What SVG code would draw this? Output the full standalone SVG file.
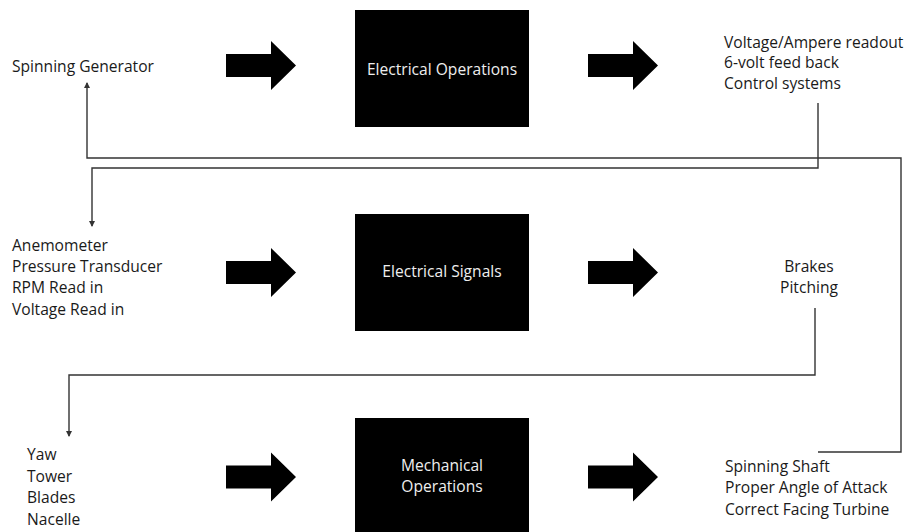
<svg xmlns="http://www.w3.org/2000/svg" width="914" height="532" viewBox="0 0 914 532">
  <defs>
    <style>
      .lbl { font-family: "Open Sans", "Liberation Sans", sans-serif; font-size: 15.6px; fill: #1a1a1a; }
      .box { fill: #000; }
      .boxtxt { font-family: "Open Sans", "Liberation Sans", sans-serif; font-size: 15.6px; fill: #eee; text-anchor: middle; }
      .flow { fill: #000; }
      .wire { fill: none; stroke: #333; stroke-width: 1.4; }
    </style>
    <marker id="tip" markerWidth="6" markerHeight="6" refX="5" refY="3" orient="auto" markerUnits="userSpaceOnUse">
      <path d="M0,0 L6,3 L0,6 Z" fill="#333"/>
    </marker>
    <!-- block arrow, origin at left edge / vertical centre -->
    <polygon id="blk" points="0,-11.5 45,-11.5 45,-24.5 70,0 45,24.5 45,11.5 0,11.5"/>
  </defs>

  <rect width="914" height="532" fill="#fff"/>

  <!-- feedback connectors -->
  <g id="connectors">
    <polyline class="wire" points="818,103 818,168 92,168 92,226" marker-end="url(#tip)"/>
    <polyline class="wire" points="818,452 901,452 901,158 87,158 87,83" marker-end="url(#tip)"/>
    <polyline class="wire" points="815,308 815,375 69,375 69,436" marker-end="url(#tip)"/>
  </g>

  <!-- flow arrows -->
  <g id="flow-arrows" class="flow">
    <use href="#blk" x="226" y="65.5"/>
    <use href="#blk" x="588" y="65.5"/>
    <use href="#blk" x="226" y="272.5"/>
    <use href="#blk" x="588" y="272.5"/>
    <use href="#blk" x="226" y="477"/>
    <use href="#blk" x="588" y="477"/>
  </g>

  <!-- row 1 -->
  <g id="spinning-generator">
    <text class="lbl" x="12" y="72">Spinning Generator</text>
  </g>
  <g id="electrical-operations">
    <rect class="box" x="355" y="10" width="174" height="117"/>
    <text class="boxtxt" x="442" y="75">Electrical Operations</text>
  </g>
  <g id="readouts">
    <text class="lbl" x="724" y="48">Voltage/Ampere readout</text>
    <text class="lbl" x="724" y="68">6-volt feed back</text>
    <text class="lbl" x="724" y="89">Control systems</text>
  </g>

  <!-- row 2 -->
  <g id="sensors">
    <text class="lbl" x="12" y="251">Anemometer</text>
    <text class="lbl" x="12" y="272">Pressure Transducer</text>
    <text class="lbl" x="12" y="293">RPM Read in</text>
    <text class="lbl" x="12" y="315">Voltage Read in</text>
  </g>
  <g id="electrical-signals">
    <rect class="box" x="355" y="214" width="174" height="117"/>
    <text class="boxtxt" x="442" y="277">Electrical Signals</text>
  </g>
  <g id="actuators">
    <text class="lbl" x="809" y="272" text-anchor="middle">Brakes</text>
    <text class="lbl" x="809" y="293" text-anchor="middle">Pitching</text>
  </g>

  <!-- row 3 -->
  <g id="structure">
    <text class="lbl" x="27" y="460">Yaw</text>
    <text class="lbl" x="27" y="482">Tower</text>
    <text class="lbl" x="27" y="503">Blades</text>
    <text class="lbl" x="27" y="525">Nacelle</text>
  </g>
  <g id="mechanical-operations">
    <rect class="box" x="355" y="418" width="174" height="120"/>
    <text class="boxtxt" x="442" y="471">Mechanical</text>
    <text class="boxtxt" x="442" y="492">Operations</text>
  </g>
  <g id="outcomes">
    <text class="lbl" x="725" y="472">Spinning Shaft</text>
    <text class="lbl" x="725" y="493">Proper Angle of Attack</text>
    <text class="lbl" x="725" y="515">Correct Facing Turbine</text>
  </g>
</svg>
